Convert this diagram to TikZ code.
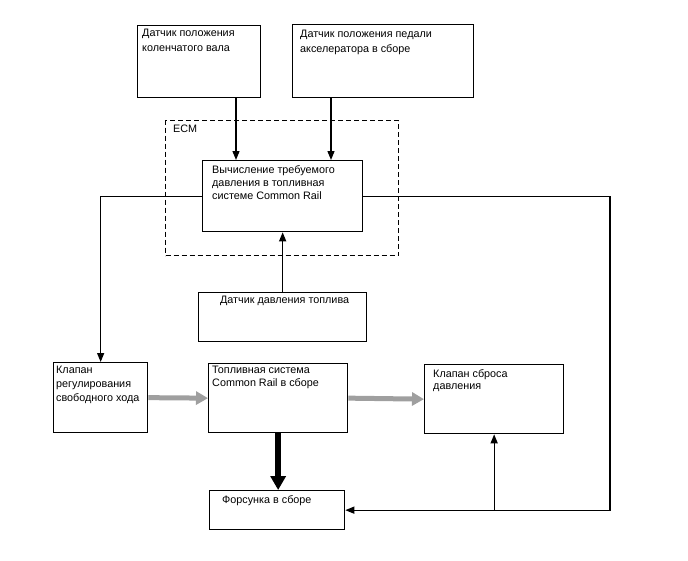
\documentclass[tikz,border=0pt]{standalone}
\usepackage{fontspec}
\setmainfont{Liberation Sans}
\usetikzlibrary{arrows.meta,calc}
\tikzset{
  box/.style={draw, line width=1.3pt, anchor=north west, inner sep=0pt},
  lbl/.style={anchor=north west, align=left, inner sep=0pt, font=\fontsize{10.8}{13}\selectfont},
  arr/.style={line width=1.3pt, -{Triangle[length=9pt,width=7pt]}},
  flow/.style={line width=5pt, gray!75, -{Triangle[length=12pt,width=13pt]}},
  jet/.style={line width=6.5pt, black, -{Triangle[length=14pt,width=15pt]}}
}
\begin{document}
\begin{tikzpicture}[x=1pt, y=-1pt]
  \useasboundingbox (0,0) rectangle (688,560);
  % ECM block
  \node[box, dashed, dash pattern=on 5pt off 3pt, minimum width=233pt, minimum height=135pt,
        label={[lbl, xshift=8pt, yshift=-5pt]north west:ECM}] (ecm) at (165,120) {};
  % sensors
  \node[box, minimum width=123pt, minimum height=72pt,
        label={[lbl, font=\fontsize{10.8}{15}\selectfont, xshift=5pt, yshift=-4pt]north west:{Датчик положения\\коленчатого вала}}] (crank) at (137,25) {};
  \node[box, minimum width=181pt, minimum height=73pt,
        label={[lbl, font=\fontsize{10.8}{15}\selectfont, xshift=8pt, yshift=-6pt]north west:{Датчик положения педали\\акселератора в сборе}}] (pedal) at (292,24) {};
  \node[box, minimum width=160pt, minimum height=71pt,
        label={[lbl, xshift=10pt, yshift=-5pt]north west:{Вычисление требуемого\\давления в топливная\\системе Common Rail}}] (calc) at (202,160) {};
  \node[box, minimum width=168pt, minimum height=49pt,
        label={[lbl, anchor=north, xshift=2pt, yshift=-4pt]north:{Датчик давления топлива}}] (sensor) at (198,292) {};
  % actuators
  \node[box, minimum width=94pt, minimum height=70pt,
        label={[lbl, font=\fontsize{10.8}{14}\selectfont, xshift=3pt, yshift=-4pt]north west:{Клапан\\регулирования\\свободного хода}}] (idle) at (53,362) {};
  \node[box, minimum width=139pt, minimum height=69pt,
        label={[lbl, xshift=4pt, yshift=-3pt]north west:{Топливная система\\Common Rail в сборе}}] (rail) at (208,363) {};
  \node[box, minimum width=139pt, minimum height=69pt,
        label={[lbl, font=\fontsize{10.8}{12}\selectfont, xshift=9pt, yshift=-5pt]north west:{Клапан сброса\\давления}}] (relief) at (424,364) {};
  \node[box, minimum width=135pt, minimum height=39pt,
        label={[lbl, xshift=13pt, yshift=-5pt]north west:{Форсунка в сборе}}] (inj) at (209,490) {};

  \coordinate (xa) at (236,0);
  \coordinate (xb) at (331,0);
  \coordinate (xr) at (610,0);

  \draw[arr] (crank.south -| xa) -- (calc.north -| xa);
  \draw[arr] (pedal.south -| xb) -- (calc.north -| xb);
  \draw[arr] (sensor.north) -- (sensor.north |- calc.south);
  \draw[arr] (calc.west) -| (idle.north);
  \draw[arr] (calc.east) -| (xr |- inj.east) -- (inj.east);
  \draw[arr] (relief.south |- inj.east) -- (relief.south);

  \draw[flow] (idle.east) -- (rail.west);
  \draw[flow] (rail.east) -- (relief.west);
  \draw[jet] (rail.south) -- (rail.south |- inj.north);
\end{tikzpicture}
\end{document}
